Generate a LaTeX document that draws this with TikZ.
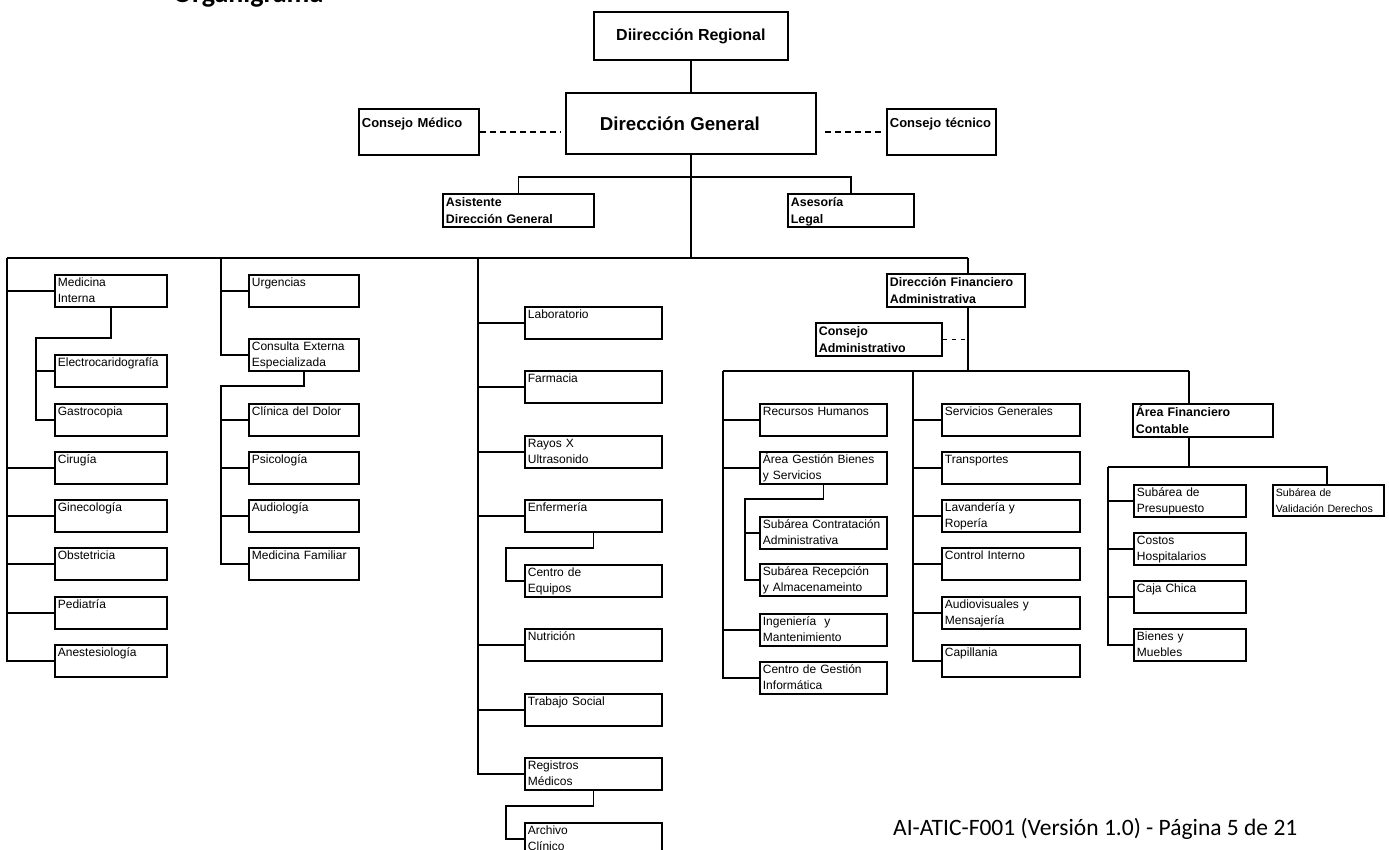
\documentclass[tikz,border=0pt]{standalone}
\usepackage{fontspec}
\setmainfont{Liberation Sans}
\newfontfamily\calibri{Carlito}

\newcommand{\unitfont}{\fontsize{12}{16}\selectfont}
\newcommand{\headfont}{\fontsize{12.4}{16.5}\selectfont\bfseries}
\newcommand{\councilfont}{\fontsize{13}{16}\selectfont\bfseries}
\newcommand{\smallunitfont}{\fontsize{10.6}{16}\selectfont}

\tikzset{
  unit/.style={draw, line width=1.8pt, anchor=north west, align=left,
    inner xsep=3pt, inner ysep=2pt, text width=#1,
    text height=10pt, text depth=18pt, font=\unitfont},
  head/.style={unit=#1, font=\headfont, text height=11pt},
  council/.style={unit=#1, font=\councilfont, text height=17pt, text depth=25pt},
  chief/.style={draw, line width=1.8pt, anchor=north west, inner sep=0pt},
  link/.style={line width=1.6pt},
  advice/.style={line width=1.6pt, dash pattern=on 6pt off 4pt},
  minor/.style={line width=1.8pt, dash pattern=on 4pt off 5pt},
}

\begin{document}
\begin{tikzpicture}[x=1pt, y=-1pt]

    \useasboundingbox (0,0) rectangle (1389,849);

    % Title and footer
    \node[anchor=base west, inner sep=0pt, font=\calibri\bfseries\fontsize{28}{30}\selectfont] (title) at (173,2.5) {Organigrama};
    \node[anchor=base west, inner sep=0pt, font=\calibri\fontsize{23.5}{28}\selectfont] (foot) at (893,835) {AI-ATIC-F001 (Versión 1.0) - Página 5 de 21};

    % Top levels
    \node[chief, minimum width=194pt, minimum height=48pt, font=\fontsize{16}{18}\selectfont\bfseries] (reg) at (593,11) {Diirección Regional};
    \node[chief, minimum width=250pt, minimum height=61pt, font=\fontsize{18.7}{21}\selectfont\bfseries] (dg) at (565,92) {Dirección General\hspace*{22pt}};
    \node[council=114pt] (cmed) at (358,108) {Consejo Médico};
    \node[council=103pt] (ctec) at (886,108) {Consejo técnico};
    \node[head=145pt] (asis) at (442,193) {Asistente\\Dirección General};
    \node[head=120pt] (ase) at (787,193) {Asesoría\\Legal};

    \draw[link] (reg) -- (dg);
    \draw[advice, shorten >=5pt] (cmed.east) -- (cmed.east -| dg.west);
    \draw[advice, shorten <=8pt, shorten >=4pt] (ctec.west -| dg.east) -- (ctec.west);
    \draw[link] (asis.north) -- ++(0,-16) -| (ase.north);

    % Main bus
    \coordinate (b1) at (7,258);
    \coordinate (b2) at (221,258);
    \coordinate (b3) at (478,258);
    \coordinate (bf) at (968,258);
    \draw[link] (dg.south) -- (dg.south |- b1);
    \draw[link] (b1) -- (bf);

    % Column 1
    \node[unit=106pt] (mi) at (54,274) {Medicina\\Interna};
    \node[unit=106pt] (ele) at (54,354) {Electrocaridografía};
    \node[unit=106pt] (gas) at (54,403) {Gastrocopia};
    \node[unit=106pt] (cir) at (54,451) {Cirugía};
    \node[unit=106pt] (gin) at (54,499) {Ginecología};
    \node[unit=106pt] (obs) at (54,547) {Obstetricia};
    \node[unit=106pt] (ped) at (54,596) {Pediatría};
    \node[unit=106pt] (ane) at (54,644) {Anestesiología};

    \coordinate (b1a) at (36,338);
    \draw[link] (b1) |- (ane.west) (b1 |- mi.west) -- (mi.west) (b1 |- cir.west) -- (cir.west)
        (b1 |- gin.west) -- (gin.west) (b1 |- obs.west) -- (obs.west) (b1 |- ped.west) -- (ped.west);
    \draw[link] (mi.south) |- (b1a) |- (gas.west) (b1a |- ele.west) -- (ele.west);

    % Column 2
    \node[unit=104pt] (urg) at (248,274) {Urgencias};
    \node[unit=104pt] (cee) at (248,338) {Consulta Externa\\Especializada};
    \node[unit=104pt] (cdd) at (248,403) {Clínica del Dolor};
    \node[unit=104pt] (psi) at (248,451) {Psicología};
    \node[unit=104pt] (aud) at (248,499) {Audiología};
    \node[unit=104pt] (mfa) at (248,547) {Medicina Familiar};

    \coordinate (b2a) at (221,386);
    \draw[link] (b2) |- (cee.west) (b2 |- urg.west) -- (urg.west);
    \draw[link] (cee.south) |- (b2a) |- (mfa.west) (b2a |- cdd.west) -- (cdd.west)
        (b2a |- psi.west) -- (psi.west) (b2a |- aud.west) -- (aud.west);

    % Column 3
    \node[unit=131pt] (lab) at (524,306) {Laboratorio};
    \node[unit=131pt] (far) at (524,370) {Farmacia};
    \node[unit=131pt] (ray) at (524,435) {Rayos X\\Ultrasonido};
    \node[unit=131pt] (enf) at (524,499) {Enfermería};
    \node[unit=131pt] (cde) at (524,564) {Centro de\\Equipos};
    \node[unit=131pt] (nut) at (524,628) {Nutrición};
    \node[unit=131pt] (tso) at (524,693) {Trabajo Social};
    \node[unit=131pt] (rme) at (524,757) {Registros\\Médicos};
    \node[unit=131pt] (arc) at (524,822) {Archivo\\Clínico};

    \coordinate (b3a) at (506,548);
    \coordinate (b3b) at (506,806);
    \draw[link] (b3) |- (rme.west) (b3 |- lab.west) -- (lab.west) (b3 |- far.west) -- (far.west)
        (b3 |- ray.west) -- (ray.west) (b3 |- enf.west) -- (enf.west) (b3 |- nut.west) -- (nut.west)
        (b3 |- tso.west) -- (tso.west);
    \draw[link] (enf.south) |- (b3a) |- (cde.west);
    \draw[link] (rme.south) |- (b3b) |- (arc.west);

    % Financial and administrative branch
    \node[head=132pt] (dfa) at (886,273) {Dirección Financiero\\Administrativa};
    \node[head=120pt] (cad) at (815,322) {Consejo\\Administrativo};

    \coordinate (f1) at (723,371);
    \coordinate (f2) at (913,371);
    \coordinate (f3) at (1189,371);
    \draw[link] (bf) -- (bf |- dfa.north);
    \draw[link] (bf |- dfa.south) -- (bf |- f1);
    \draw[minor] (cad.east) -- (cad.east -| bf);
    \draw[link] (f1) -- (f3);

    % Finance column 1
    \node[unit=121pt] (rh) at (759,403) {Recursos Humanos};
    \node[unit=121pt] (agb) at (759,451) {Área Gestión Bienes\\y Servicios};
    \node[unit=121pt] (sca) at (759,516) {Subárea Contratación\\Administrativa};
    \node[unit=121pt] (sra) at (759,563) {Subárea Recepción\\y Almacenameinto};
    \node[unit=121pt] (ing) at (759,613) {Ingeniería\ \ y\\Mantenimiento};
    \node[unit=121pt] (cgi) at (759,661) {Centro de Gestión\\Informática};

    \coordinate (f1a) at (745,499);
    \draw[link] (f1) |- (cgi.west) (f1 |- rh.west) -- (rh.west) (f1 |- agb.west) -- (agb.west)
        (f1 |- ing.west) -- (ing.west);
    \draw[link] (agb.south) |- (f1a) |- (sra.west) (f1a |- sca.west) -- (sca.west);

    % Finance column 2
    \node[unit=132pt] (sg) at (941,403) {Servicios Generales};
    \node[unit=132pt] (tra) at (941,451) {Transportes};
    \node[unit=132pt] (lav) at (941,499) {Lavandería y\\Ropería};
    \node[unit=132pt] (cin) at (941,547) {Control Interno};
    \node[unit=132pt] (amv) at (941,596) {Audiovisuales y\\Mensajería};
    \node[unit=132pt] (cap) at (941,644) {Capillania};

    \draw[link] (f2) |- (cap.west) (f2 |- sg.west) -- (sg.west) (f2 |- tra.west) -- (tra.west)
        (f2 |- lav.west) -- (lav.west) (f2 |- cin.west) -- (cin.west) (f2 |- amv.west) -- (amv.west);

    % Finance column 3
    \node[head=134pt] (afc) at (1132,403) {Área Financiero\\Contable};
    \node[unit=106pt] (sp) at (1133,484) {Subárea de\\Presupuesto};
    \node[unit=106pt] (coh) at (1133,532) {Costos\\Hospitalarios};
    \node[unit=106pt] (cch) at (1133,580) {Caja Chica};
    \node[unit=106pt] (bym) at (1133,628) {Bienes y\\Muebles};
    \node[unit=105pt, font=\smallunitfont, text depth=17pt] (sva) at (1272,484) {Subárea de\\Validación Derechos};

    \coordinate (c1) at (1108,467);
    \coordinate (c2) at (1327,467);
    \draw[link] (f3) -- (f3 |- afc.north);
    \draw[link] (f3 |- afc.south) -- (f3 |- c1);
    \draw[link] (c1) -- (c2) -- (c2 |- sva.north);
    \draw[link] (c1) |- (bym.west) (c1 |- sp.west) -- (sp.west) (c1 |- coh.west) -- (coh.west)
        (c1 |- cch.west) -- (cch.west);

\end{tikzpicture}
\end{document}
